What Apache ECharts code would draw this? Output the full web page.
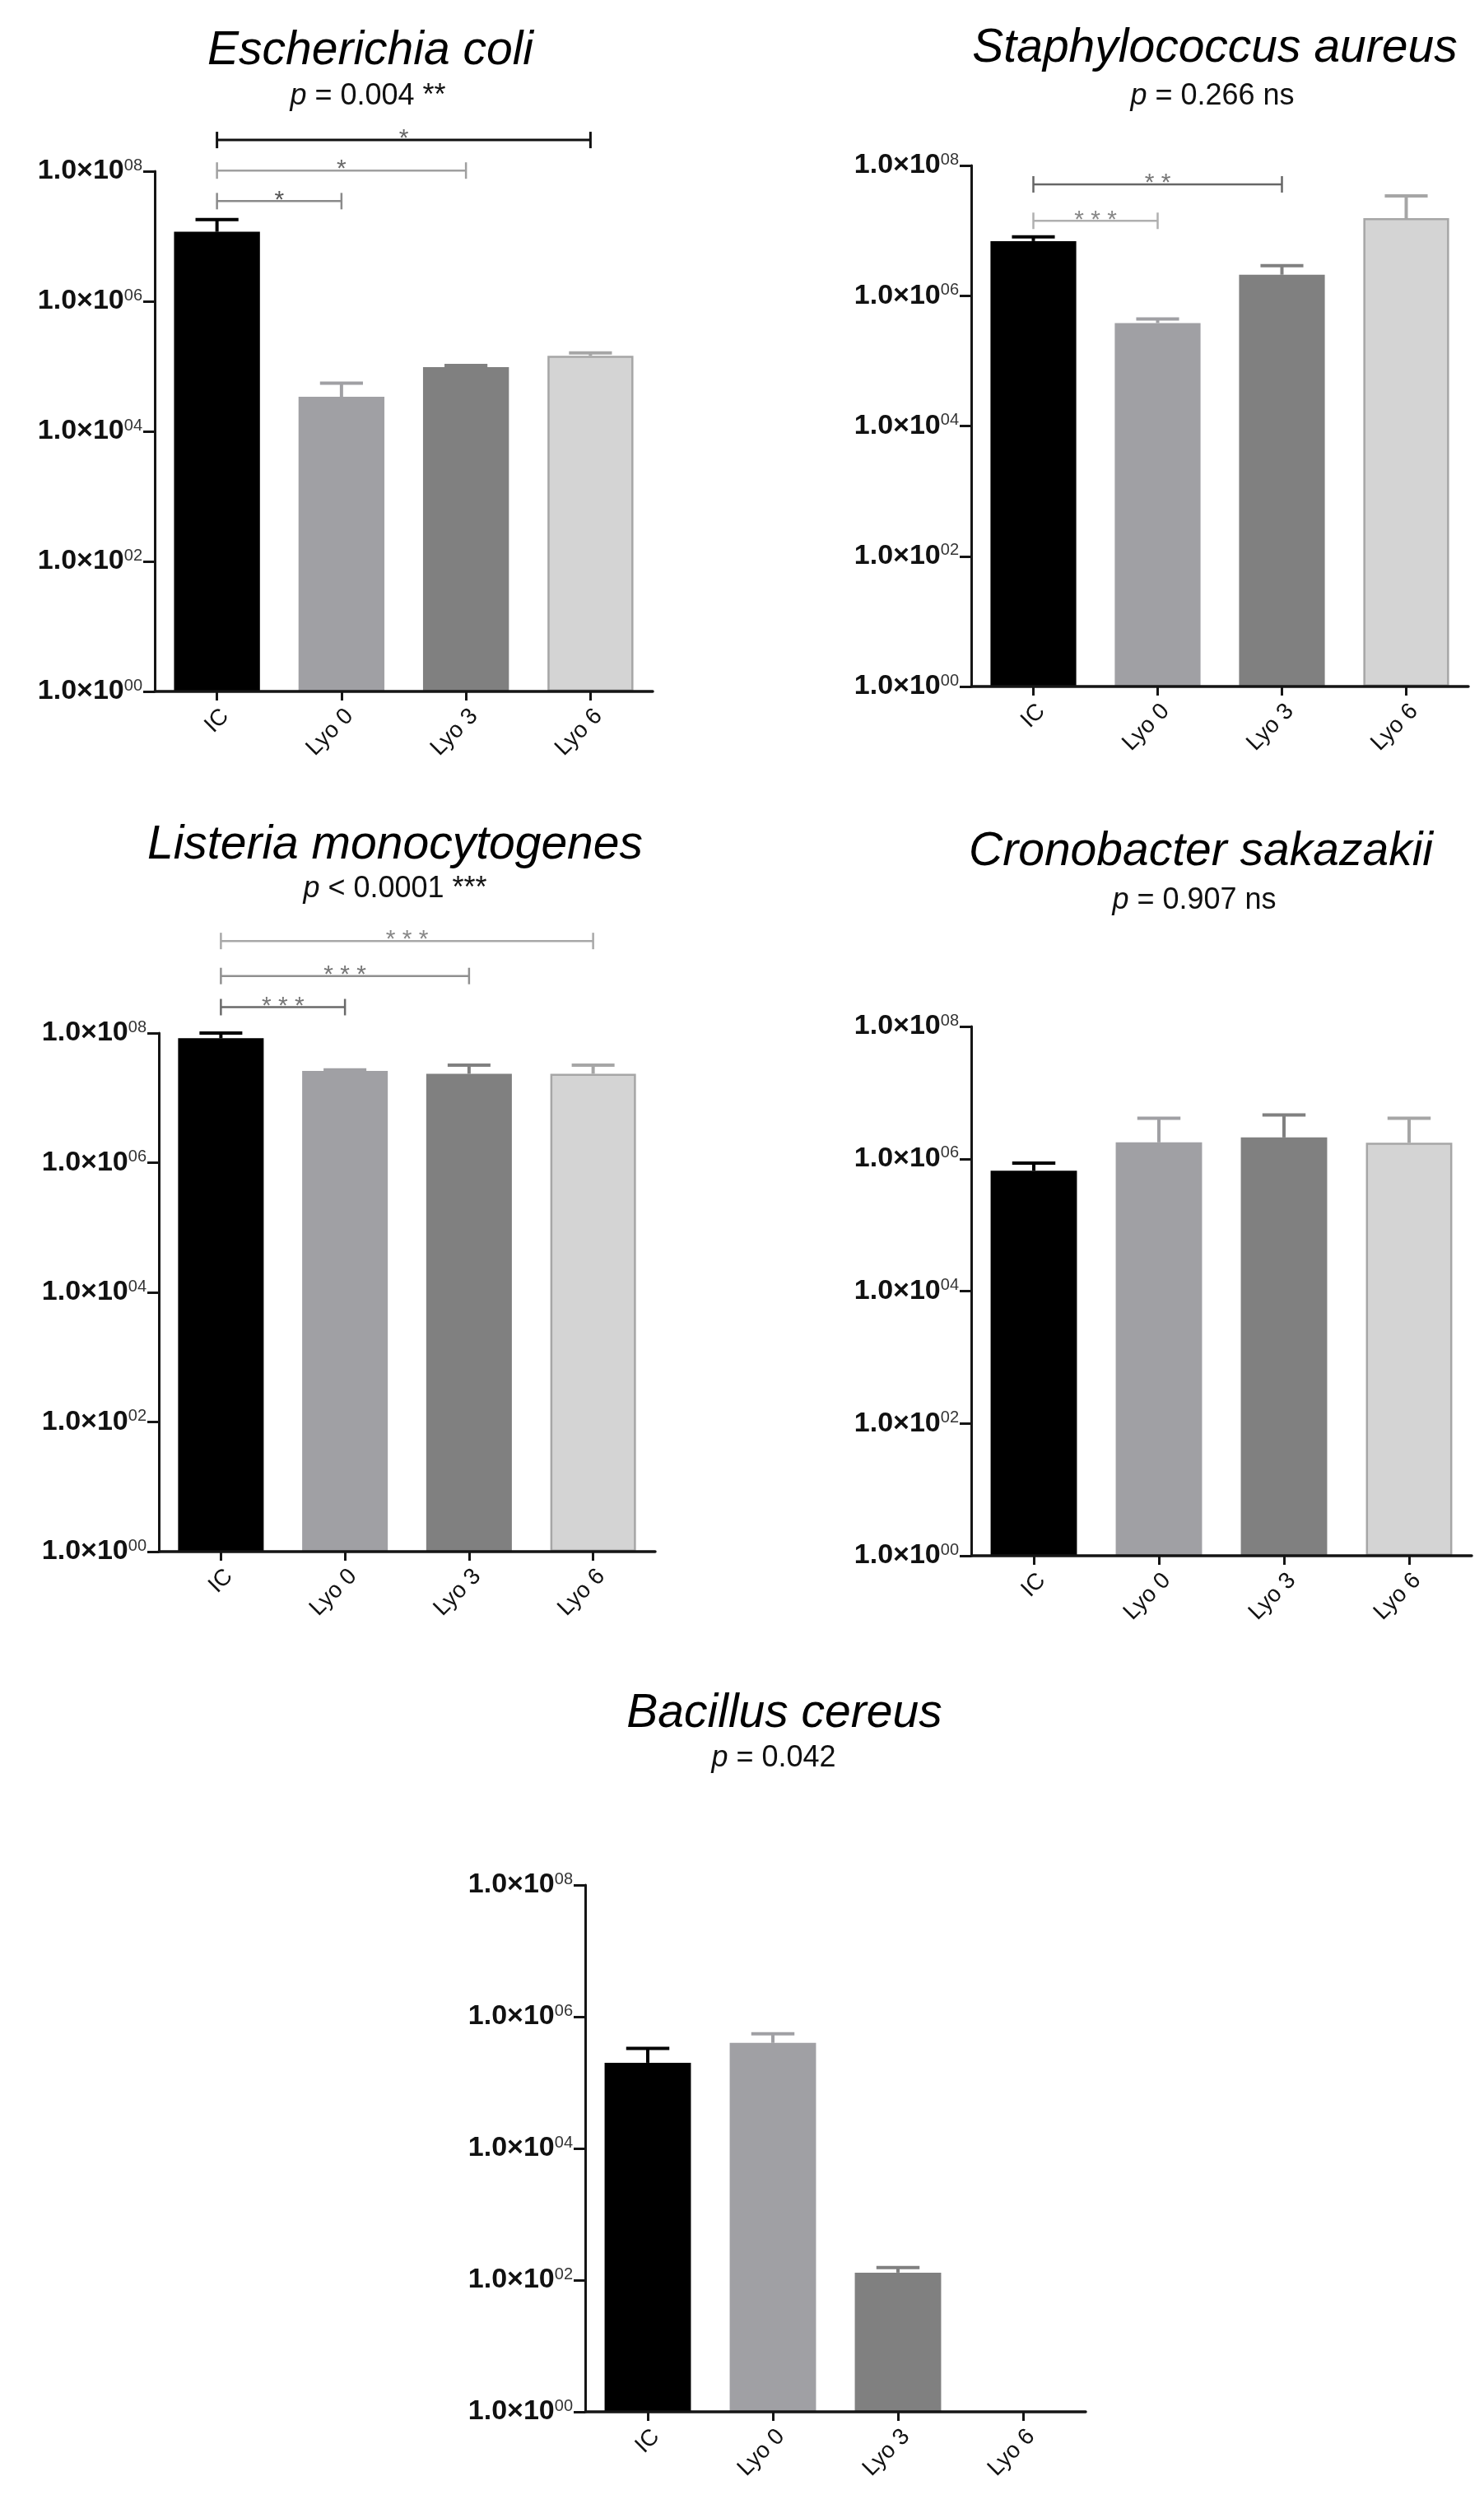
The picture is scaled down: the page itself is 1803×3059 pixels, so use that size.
<!DOCTYPE html>
<html>
<head>
<meta charset="utf-8">
<script src="https://cdn.jsdelivr.net/npm/echarts@6/dist/echarts.min.js"></script>
<style>
html,body{margin:0;padding:0;background:#ffffff;}
#c{width:1803px;height:3059px;}
</style>
</head>
<body>
<div id="c"></div>
<script>
// ---------------- data ----------------
const categories = ['IC', 'Lyo 0', 'Lyo 3', 'Lyo 6'];
const yTickLabels = ['00', '02', '04', '06', '08'];   // exponents of 1.0×10^n

const ecoliMean      = [1.17e7, 3.4e4, 9.7e4, 1.45e5];
const ecoliErrTop    = [1.8e7, 5.5e4, 1.03e5, 1.6e5];
const ecoliBrackets  = [[0, 3, '*'], [0, 2, '*'], [0, 1, '*']];

const saureusMean     = [6.9e6, 3.8e5, 2.1e6, 1.55e7];
const saureusErrTop   = [8.0e6, 4.4e5, 2.9e6, 3.4e7];
const saureusBrackets = [[0, 2, '* *'], [0, 1, '* * *']];

const listeriaMean     = [8.3e7, 2.6e7, 2.35e7, 2.35e7];
const listeriaErrTop   = [1.0e8, 2.7e7, 3.2e7, 3.2e7];
const listeriaBrackets = [[0, 3, '* * *'], [0, 2, '* * *'], [0, 1, '* * *']];

const cronoMean     = [6.6e5, 1.77e6, 2.1e6, 1.75e6];
const cronoErrTop   = [8.6e5, 4.1e6, 4.6e6, 4.1e6];
const cronoBrackets = [];

const bacillusMean     = [2.0e5, 4.0e5, 1.3e2, null];
const bacillusErrTop   = [3.3e5, 5.5e5, 1.55e2, null];
const bacillusBrackets = [];

const titles  = ['Escherichia coli', 'Staphylococcus aureus', 'Listeria monocytogenes', 'Cronobacter sakazakii', 'Bacillus cereus'];
const pTexts  = ['= 0.004 **', '= 0.266 ns', '< 0.0001 ***', '= 0.907 ns', '= 0.042'];

// ---------------- layout / style ----------------
const FONT = "'Liberation Sans', Arial, sans-serif";
const barColors    = ['#000000', '#a0a0a4', '#808080', '#d4d4d4'];
const barBorders   = ['#000000', '#a0a0a4', '#808080', '#a6a6a6'];
const errColors    = ['#000000', '#a0a0a4', '#808080', '#a6a6a6'];

const panels = [
  {mean: ecoliMean, top: ecoliErrTop, brackets: ecoliBrackets,
   grid: {left: 188, top: 208, width: 605, height: 632},
   tx: 450, tTop: 34, px: 447, pTop: 99,
   levels: [8.48, 8.01, 7.54], bColors: ['#111111', '#a0a0a0', '#8a8a8a'], bWidths: [3, 2.5, 2.5], starColors: ['#666666', '#6a6a6a', '#555555']},
  {mean: saureusMean, top: saureusErrTop, brackets: saureusBrackets,
   grid: {left: 1180, top: 201, width: 604, height: 633},
   tx: 1476, tTop: 31, px: 1473, pTop: 99,
   levels: [7.71, 7.15], bColors: ['#666666', '#b0b0b0'], bWidths: [2.5, 2.5], starColors: ['#777777', '#888888']},
  {mean: listeriaMean, top: listeriaErrTop, brackets: listeriaBrackets,
   grid: {left: 193, top: 1255, width: 603, height: 630},
   tx: 480, tTop: 999, px: 480, pTop: 1062,
   levels: [9.42, 8.88, 8.40], bColors: ['#a8a8a8', '#909090', '#6a6a6a'], bWidths: [2.5, 2.5, 2.5], starColors: ['#888888', '#777777', '#777777']},
  {mean: cronoMean, top: cronoErrTop, brackets: cronoBrackets,
   grid: {left: 1180, top: 1247, width: 608, height: 643},
   tx: 1459, tTop: 1007, px: 1451, pTop: 1076,
   levels: [], bColors: [], bWidths: [], starColors: []},
  {mean: bacillusMean, top: bacillusErrTop, brackets: bacillusBrackets,
   grid: {left: 711, top: 2290, width: 608, height: 640},
   tx: 953, tTop: 2054, px: 940, pTop: 2118,
   levels: [], bColors: [], bWidths: [], starColors: []}
];

const lg = v => (v == null || v <= 0) ? '-' : Math.log10(v);

const option = {
  backgroundColor: '#ffffff',
  animation: false,
  title: [],
  grid: [],
  xAxis: [],
  yAxis: [],
  series: []
};

panels.forEach((p, i) => {
  option.title.push({
    text: titles[i], left: p.tx, top: p.tTop, textAlign: 'center', padding: 0,
    textStyle: {fontFamily: FONT, fontStyle: 'italic', fontWeight: 'normal', fontSize: 57, color: '#000'}
  });
  option.title.push({
    text: '{i|p} ' + pTexts[i], left: p.px, top: p.pTop, textAlign: 'center', padding: 0,
    textStyle: {fontFamily: FONT, fontWeight: 'normal', fontSize: 36, color: '#111',
      rich: {i: {fontFamily: FONT, fontStyle: 'italic', fontSize: 36, color: '#111'}}}
  });
  option.grid.push(Object.assign({containLabel: false}, p.grid));
  option.xAxis.push({
    type: 'category', gridIndex: i, data: categories, z: 5,
    axisLine: {show: true, lineStyle: {color: '#151515', width: 3.5}},
    axisTick: {show: true, alignWithLabel: true, length: 11, lineStyle: {color: '#151515', width: 3}},
    axisLabel: {rotate: 45, fontSize: 28, margin: 16, color: '#111', fontFamily: FONT, verticalAlign: 'top'},
    splitLine: {show: false}
  });
  option.yAxis.push({
    type: 'value', gridIndex: i, min: 0, max: 8, interval: 2, z: 5,
    axisLine: {show: true, lineStyle: {color: '#151515', width: 3}},
    axisTick: {show: true, length: 14, lineStyle: {color: '#151515', width: 3}},
    splitLine: {show: false},
    axisLabel: {
      margin: 15,
      formatter: v => '{b|1.0×10}{s|' + yTickLabels[Math.round(v / 2)] + '}',
      rich: {
        b: {fontFamily: FONT, fontWeight: 'bold', fontSize: 34, lineHeight: 34, color: '#111'},
        s: {fontFamily: FONT, fontSize: 20, lineHeight: 20, verticalAlign: 'top', color: '#333'}
      }
    }
  });
  option.series.push({
    type: 'bar', xAxisIndex: i, yAxisIndex: i, barWidth: '69%', z: 2,
    data: p.mean.map((v, k) => ({
      value: lg(v),
      itemStyle: {color: barColors[k], borderColor: barBorders[k], borderWidth: 2.5}
    }))
  });
  option.series.push({
    type: 'custom', xAxisIndex: i, yAxisIndex: i, z: 3,
    data: p.mean.map((v, k) => [k, lg(v), lg(p.top[k])]).filter(d => d[1] !== '-'),
    encode: {x: 0, y: [1, 2]},
    renderItem: (params, api) => {
      const k = api.value(0);
      const a = api.coord([k, api.value(1)]);
      const b = api.coord([k, api.value(2)]);
      const bw = api.size([1, 0])[0] * 0.69;
      const cap = bw * 0.5;
      const col = errColors[k];
      return {type: 'group', children: [
        {type: 'line', shape: {x1: a[0], y1: a[1], x2: b[0], y2: b[1]}, style: {stroke: col, lineWidth: 4}},
        {type: 'line', shape: {x1: b[0] - cap / 2, y1: b[1], x2: b[0] + cap / 2, y2: b[1]}, style: {stroke: col, lineWidth: 4}}
      ]};
    }
  });
  if (p.brackets.length) {
    option.series.push({
      type: 'custom', xAxisIndex: i, yAxisIndex: i, z: 4, clip: false,
      data: p.brackets.map((b, k) => [b[0], b[1], p.levels[k]]),
      encode: {x: [0, 1], y: 2},
      renderItem: (params, api) => {
        const k = params.dataIndex;
        const a = api.coord([api.value(0), api.value(2)]);
        const c = api.coord([api.value(1), api.value(2)]);
        const col = p.bColors[k], lw = p.bWidths[k], h = 10;
        return {type: 'group', children: [
          {type: 'line', shape: {x1: a[0], y1: a[1], x2: c[0], y2: c[1]}, style: {stroke: col, lineWidth: lw}},
          {type: 'line', shape: {x1: a[0], y1: a[1] - h, x2: a[0], y2: a[1] + h}, style: {stroke: col, lineWidth: lw}},
          {type: 'line', shape: {x1: c[0], y1: c[1] - h, x2: c[0], y2: c[1] + h}, style: {stroke: col, lineWidth: lw}},
          {type: 'text', x: (a[0] + c[0]) / 2, y: a[1] - 1,
           style: {text: p.brackets[k][2], fill: p.starColors[k], fontSize: 30, fontFamily: FONT, align: 'center', verticalAlign: 'middle'}}
        ]};
      }
    });
  }
});

const chart = echarts.init(document.getElementById('c'), null, {renderer: 'canvas'});
chart.setOption(option);
</script>
</body>
</html>
